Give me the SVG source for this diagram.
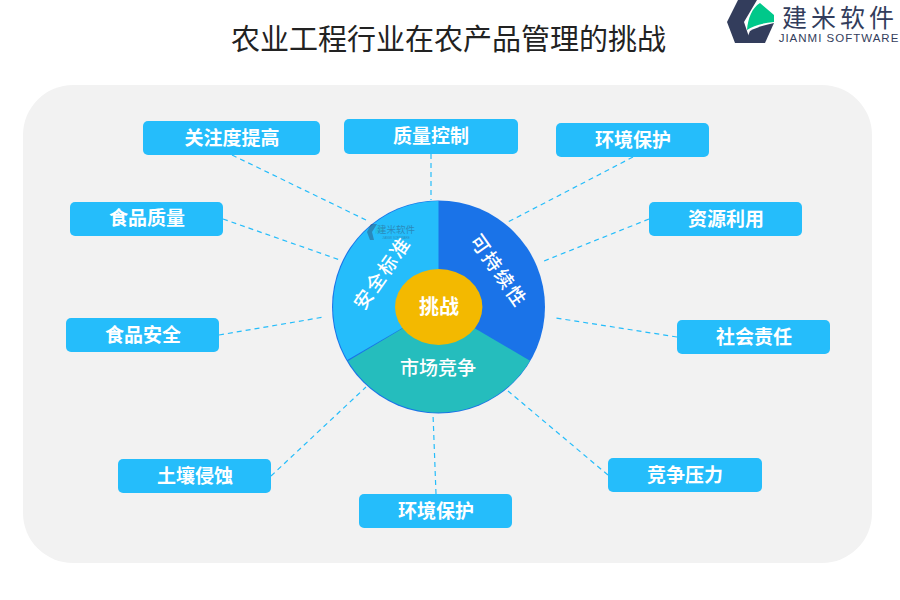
<svg xmlns="http://www.w3.org/2000/svg" width="900" height="600" viewBox="0 0 900 600">
<style>
.t{font-family:"Noto Sans CJK SC","Liberation Sans",sans-serif;text-anchor:middle;dominant-baseline:central;}
.box{fill:#25bdfb;}
.lb{font-size:19px;font-weight:700;fill:#fff;}
.seg{font-size:19px;font-weight:500;fill:#fff;}
.c{stroke:#25bdfb;stroke-width:1.2;stroke-dasharray:5 4;fill:none;}
</style>
<rect width="900" height="600" fill="#fff"/>
<rect x="23" y="85" width="849" height="478" rx="50" fill="#f2f2f2"/>
<text class="t" x="448.500" y="36.500" font-size="29" fill="#222">农业工程行业在农产品管理的挑战</text>
<g id="logo">
<path d="M738 0H757L744 22L751 43H735L727 22Z" fill="#333d5c"/>
<path d="M747 30C748 18 752 8 760 3L774 15V22C762 23 753 26 747 30Z" fill="#00c88a"/>
<path d="M745 43L750 31C757 27 765 25 774 23L765 43Z" fill="#333d5c"/>
<text class="t" x="840" y="16" font-size="25" letter-spacing="4" fill="#333d5c">建米软件</text>
<text class="t" x="839" y="38" font-size="11.500" letter-spacing="1" fill="#333d5c" style="font-family:'Liberation Sans',sans-serif">JIANMI SOFTWARE</text>
</g>
<g id="connectors">
<line class="c" x1="232" y1="155" x2="366" y2="220"/>
<line class="c" x1="431" y1="154" x2="431" y2="200"/>
<line class="c" x1="633" y1="157" x2="508" y2="222"/>
<line class="c" x1="649" y1="219" x2="544" y2="261"/>
<line class="c" x1="677" y1="337" x2="556" y2="318"/>
<line class="c" x1="608" y1="475" x2="508" y2="391"/>
<line class="c" x1="436" y1="494" x2="433" y2="414"/>
<line class="c" x1="271" y1="476" x2="366" y2="387"/>
<line class="c" x1="219" y1="335" x2="324" y2="317"/>
<line class="c" x1="223" y1="219" x2="340" y2="260"/>
</g>
<g id="hub">
<circle cx="438.500" cy="307" r="106.500" fill="#1a73e8"/>
<path d="M438.500 307L347.300 360A106 106 0 0 1 438.500 201Z" fill="#25bdfb"/>
<path d="M438.500 307L348 361A106 106 0 0 0 530 360.700Z" fill="#25bdbd"/>
<g opacity=".4">
<path d="M371 224H377L372 232L374 240H370L367 232Z" fill="#333d5c"/>
<path d="M375 234C375 229 377 226 379 225L384 229V232C380 232 377 233 375 234Z" fill="#25bdbd"/>
<text class="t" x="396" y="229" font-size="9.500" fill="#333d5c">建米软件</text>
<text class="t" x="396" y="237.500" font-size="3" fill="#333d5c" style="font-family:'Liberation Sans',sans-serif">JIANMI SOFTWARE</text>
</g>
<text class="t seg" transform="translate(381 272) rotate(-55)" font-size="20" letter-spacing="2">安全标准</text>
<text class="t seg" transform="translate(500 270) rotate(55)" letter-spacing="2">可持续性</text>
<text class="t seg" x="438" y="366.500">市场竞争</text>
<ellipse cx="438.700" cy="307" rx="43.700" ry="38" fill="#f3b900"/>
<text class="t" x="439" y="305.500" font-size="20" font-weight="700" fill="#fff">挑战</text>
</g>
<g id="n1"><rect class="box" x="143" y="121" width="177" height="34" rx="5"/><text class="t lb" x="232" y="136.500">关注度提高</text></g>
<g id="n2"><rect class="box" x="344" y="119" width="174" height="35" rx="5"/><text class="t lb" x="431" y="134.500">质量控制</text></g>
<g id="n3"><rect class="box" x="556" y="123" width="153" height="34" rx="5"/><text class="t lb" x="633" y="138.500">环境保护</text></g>
<g id="n4"><rect class="box" x="649" y="202" width="153" height="34" rx="5"/><text class="t lb" x="726" y="217.500">资源利用</text></g>
<g id="n5"><rect class="box" x="677" y="320" width="153" height="34" rx="5"/><text class="t lb" x="754" y="335.500">社会责任</text></g>
<g id="n6"><rect class="box" x="608" y="458" width="154" height="34" rx="5"/><text class="t lb" x="685" y="473.500">竞争压力</text></g>
<g id="n7"><rect class="box" x="359" y="494" width="153" height="34" rx="5"/><text class="t lb" x="436" y="509.500">环境保护</text></g>
<g id="n8"><rect class="box" x="118" y="459" width="153" height="34" rx="5"/><text class="t lb" x="195" y="474.500">土壤侵蚀</text></g>
<g id="n9"><rect class="box" x="66" y="318" width="153" height="34" rx="5"/><text class="t lb" x="143" y="333.500">食品安全</text></g>
<g id="n10"><rect class="box" x="70" y="202" width="153" height="34" rx="5"/><text class="t lb" x="147" y="216.500">食品质量</text></g>
</svg>
